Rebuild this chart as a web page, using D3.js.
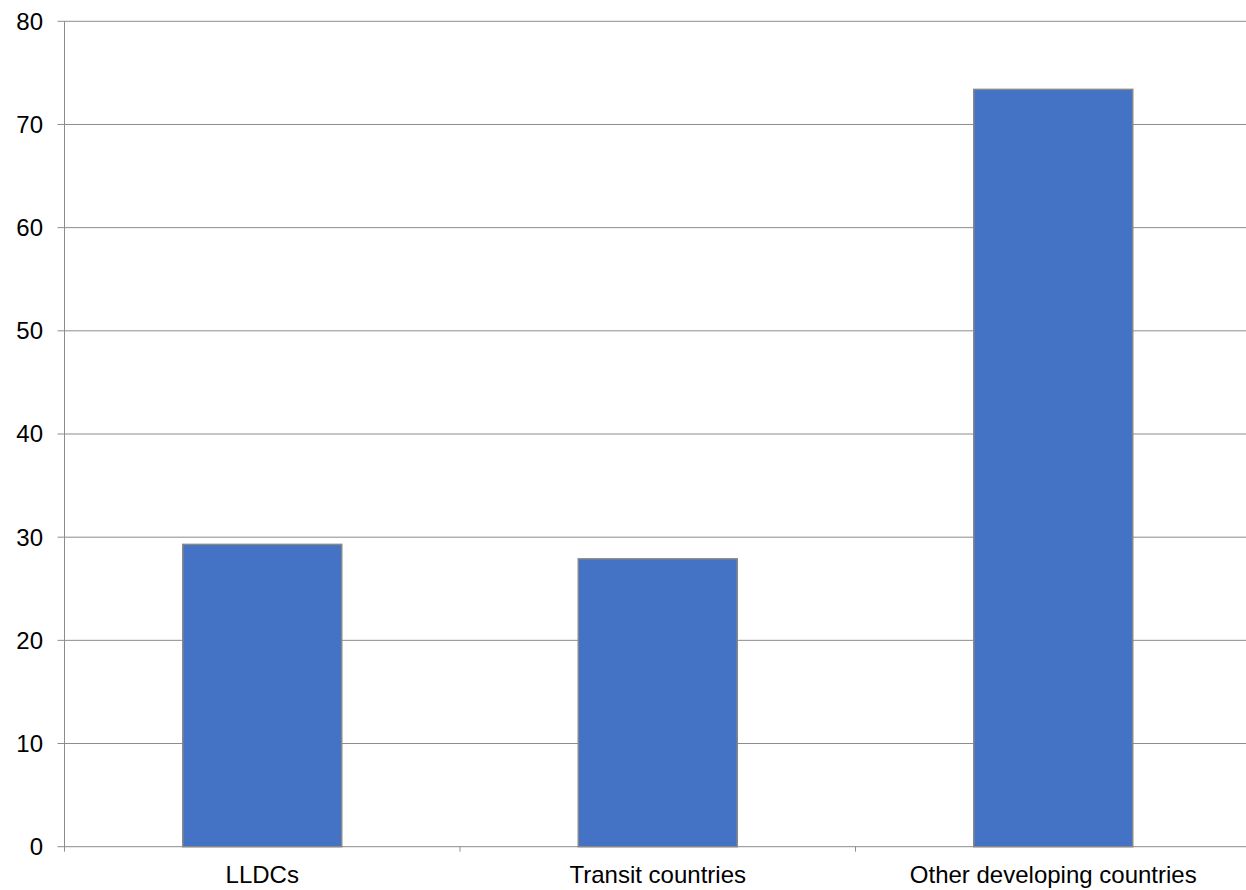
<!DOCTYPE html>
<html><head><meta charset="utf-8">
<script src="https://cdn.jsdelivr.net/npm/d3@7"></script>
<style>body{margin:0;background:#fff;} svg{display:block;}</style>
</head><body>
<svg id="c" width="1246" height="890"></svg>
<script>
const categories = ["LLDCs", "Transit countries", "Other developing countries"];
const values = [29.3, 27.9, 73.4];
const yTicks = [0, 10, 20, 30, 40, 50, 60, 70, 80];

(function () {
const svg = d3.select("#c");
const mLeft = 64.5, mRight = 1251, mTop = 21.3, mBottom = 846.7;
const x = d3.scaleBand().domain(categories).range([mLeft, mRight]).padding(0);
const y = d3.scaleLinear().domain([0, 80]).range([mBottom, mTop]);
const font = "'Liberation Sans', Arial, sans-serif";

// gridlines
svg.append("g").selectAll("line").data(yTicks).join("line")
  .attr("x1", mLeft - 7).attr("x2", 1246)
  .attr("y1", d => y(d)).attr("y2", d => y(d))
  .attr("stroke", "#8c8c8c").attr("stroke-width", 1);

// y axis line
svg.append("line").attr("x1", mLeft).attr("x2", mLeft)
  .attr("y1", y(80)).attr("y2", mBottom + 5)
  .attr("stroke", "#8c8c8c").attr("stroke-width", 1);

// x ticks
svg.append("g").selectAll("line").data(categories.slice(1)).join("line")
  .attr("x1", d => x(d)).attr("x2", d => x(d))
  .attr("y1", mBottom).attr("y2", mBottom + 5)
  .attr("stroke", "#8c8c8c").attr("stroke-width", 1);

// y labels
svg.append("g").selectAll("text").data(yTicks).join("text")
  .attr("x", 43).attr("y", d => y(d)).attr("dy", "0.35em")
  .attr("text-anchor", "end").attr("font-family", font).attr("font-size", 24)
  .attr("fill", "#000").text(d => d);

// bars
const bw = x.bandwidth() * 0.402;
svg.append("g").selectAll("rect").data(values).join("rect")
  .attr("x", (d, i) => x(categories[i]) + x.bandwidth() / 2 - bw / 2)
  .attr("width", bw)
  .attr("y", d => y(d))
  .attr("height", d => y(0) - y(d))
  .attr("fill", "#4472C4").attr("stroke", "#888888").attr("stroke-width", 1.5);

// x labels
svg.append("g").selectAll("text").data(categories).join("text")
  .attr("x", d => x(d) + x.bandwidth() / 2).attr("y", 883)
  .attr("text-anchor", "middle").attr("font-family", font).attr("font-size", 24)
  .attr("fill", "#000").text(d => d);
})();
</script>
</body></html>
